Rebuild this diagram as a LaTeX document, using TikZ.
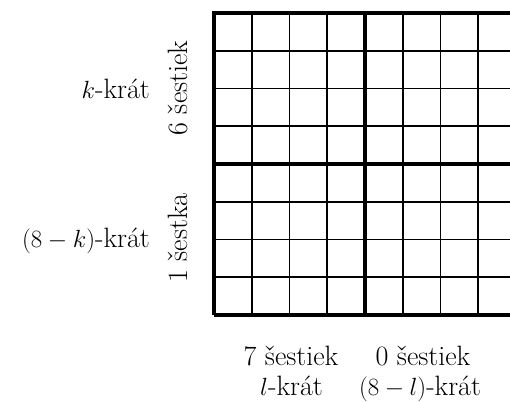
\documentclass[tikz,border=0pt]{standalone}
\usepackage{fontspec}
\begin{document}
\begin{tikzpicture}[x=1pt,y=-1pt,
  thinline/.style={line width=1.7pt},
  thickline/.style={line width=3.6pt},
  lbl/.style={inner sep=0pt,font=\fontsize{28}{32}\selectfont}]
\useasboundingbox (0,0) rectangle (510,401);
\begin{scope}
\clip (0,0) rectangle (510,401);
\foreach \i in {1,2,3,5,6,7} {
  \draw[thinline] (214+\i*37.75,13) -- (214+\i*37.75,315);
  \draw[thinline] (214,13+\i*37.75) -- (516,13+\i*37.75);
}
\draw[thickline] (214,164) -- (516,164);
\draw[thickline] (365,13) -- (365,315);
\draw[thickline] (214,315) -- (214,13) -- (520,13);
\draw[thickline] (214,315) -- (520,315);
\end{scope}
\node[lbl,anchor=base east] (kk) at (150,99) {$k$-krát};
\node[lbl,anchor=base east] (k8) at (150,247) {$(8-k)$-krát};
\node[lbl,anchor=base,rotate=90] (s6) at (187,88) {6 šestiek};
\node[lbl,anchor=base,rotate=90] (s1) at (187,238) {1 šestka};
\node[lbl,anchor=base] (s7) at (291,365) {7 šestiek};
\node[lbl,anchor=base] (ll) at (291.5,395) {$l$-krát};
\node[lbl,anchor=base] (s0) at (423,365) {0 šestiek};
\node[lbl,anchor=base] (l8) at (420,395) {$(8-l)$-krát};
\end{tikzpicture}
\end{document}
